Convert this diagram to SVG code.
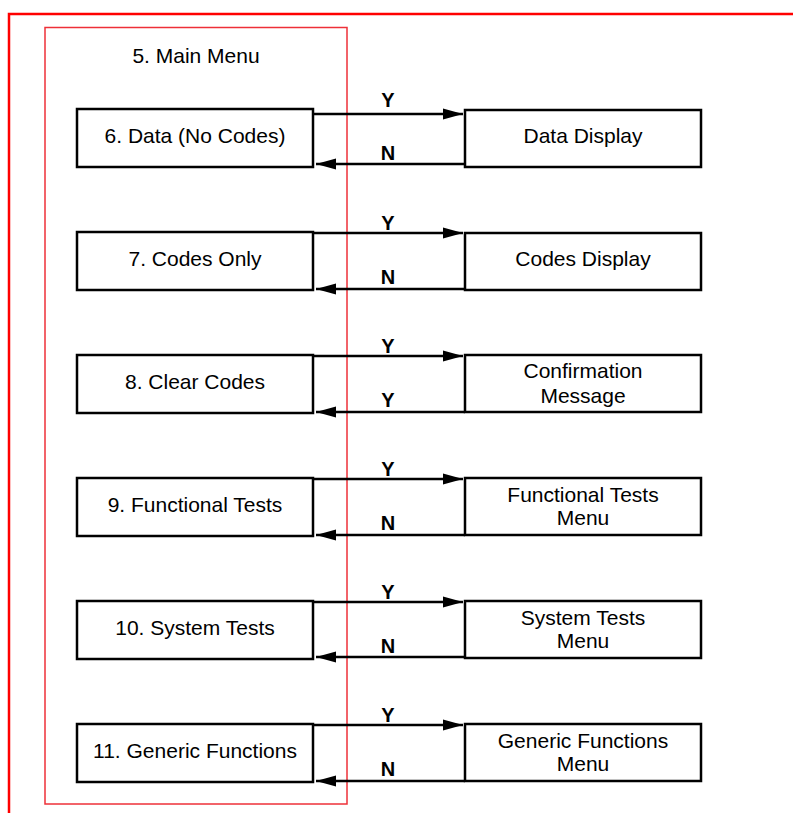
<svg xmlns="http://www.w3.org/2000/svg" width="793" height="813" viewBox="0 0 793 813">
<style>
.box{fill:#fff;stroke:#000;stroke-width:2.5}
.t{font-family:"Liberation Sans",Arial,sans-serif;font-size:21px;fill:#000;text-anchor:middle}
.lb{font-family:"Liberation Sans",Arial,sans-serif;font-size:20px;font-weight:bold;fill:#000;text-anchor:middle}
.ln{stroke:#000;stroke-width:2.5;fill:none}
</style>
<defs>
<marker id="ah" markerWidth="20" markerHeight="12" refX="20" refY="6" orient="auto" markerUnits="userSpaceOnUse">
<path d="M0,0.5 L20,6 L0,11.5 Z" fill="#000"/>
</marker>
</defs>
<rect width="793" height="813" fill="#fff"/>
<g id="frame">
<path d="M9,813 V14 H793" fill="none" stroke="#ff0000" stroke-width="2.5"/>
</g>
<g id="main-menu">
<rect x="45" y="27.5" width="302" height="776.5" fill="none" stroke="#ee3038" stroke-width="1.5"/>
<text class="t" x="196" y="63">5. Main Menu</text>
</g>
<g id="n6"><rect class="box" x="77" y="109" width="236" height="58"/><text class="t" x="195" y="143.3">6. Data (No Codes)</text></g>
<g id="n6r"><rect class="box" x="465" y="110" width="236" height="57"/><text class="t" x="583" y="143.3">Data Display</text></g>
<g id="n7"><rect class="box" x="77" y="232" width="236" height="58"/><text class="t" x="195" y="266.3">7. Codes Only</text></g>
<g id="n7r"><rect class="box" x="465" y="233" width="236" height="57"/><text class="t" x="583" y="266.3">Codes Display</text></g>
<g id="n8"><rect class="box" x="77" y="355" width="236" height="58"/><text class="t" x="195" y="389.3">8. Clear Codes</text></g>
<g id="n8r"><rect class="box" x="465" y="355" width="236" height="57"/><text class="t" x="583" y="378.3">Confirmation</text><text class="t" x="583" y="402.7">Message</text></g>
<g id="n9"><rect class="box" x="77" y="478" width="236" height="58"/><text class="t" x="195" y="512.3">9. Functional Tests</text></g>
<g id="n9r"><rect class="box" x="465" y="478" width="236" height="57"/><text class="t" x="583" y="501.5">Functional Tests</text><text class="t" x="583" y="525.3">Menu</text></g>
<g id="n10"><rect class="box" x="77" y="601" width="236" height="58"/><text class="t" x="195" y="635.3">10. System Tests</text></g>
<g id="n10r"><rect class="box" x="465" y="601" width="236" height="57"/><text class="t" x="583" y="624.5">System Tests</text><text class="t" x="583" y="648.3">Menu</text></g>
<g id="n11"><rect class="box" x="77" y="724" width="236" height="58"/><text class="t" x="195" y="758.3">11. Generic Functions</text></g>
<g id="n11r"><rect class="box" x="465" y="724" width="236" height="57"/><text class="t" x="583" y="747.5">Generic Functions</text><text class="t" x="583" y="771.3">Menu</text></g>
<g id="connectors">
<path class="ln" d="M313,114 H463" marker-end="url(#ah)"/>
<path class="ln" d="M465,164 H316" marker-end="url(#ah)"/>
<text class="lb" x="388" y="107">Y</text><text class="lb" x="388" y="160">N</text>
<path class="ln" d="M313,233 H463" marker-end="url(#ah)"/>
<path class="ln" d="M465,289 H316" marker-end="url(#ah)"/>
<text class="lb" x="388" y="229.5">Y</text><text class="lb" x="388" y="284">N</text>
<path class="ln" d="M313,356 H463" marker-end="url(#ah)"/>
<path class="ln" d="M465,412 H316" marker-end="url(#ah)"/>
<text class="lb" x="388" y="353">Y</text><text class="lb" x="388" y="407">Y</text>
<path class="ln" d="M313,479 H463" marker-end="url(#ah)"/>
<path class="ln" d="M465,535 H316" marker-end="url(#ah)"/>
<text class="lb" x="388" y="476">Y</text><text class="lb" x="388" y="530">N</text>
<path class="ln" d="M313,602 H463" marker-end="url(#ah)"/>
<path class="ln" d="M465,657 H316" marker-end="url(#ah)"/>
<text class="lb" x="388" y="599">Y</text><text class="lb" x="388" y="653">N</text>
<path class="ln" d="M313,725 H463" marker-end="url(#ah)"/>
<path class="ln" d="M465,781 H316" marker-end="url(#ah)"/>
<text class="lb" x="388" y="722">Y</text><text class="lb" x="388" y="776">N</text>
</g>
</svg>
